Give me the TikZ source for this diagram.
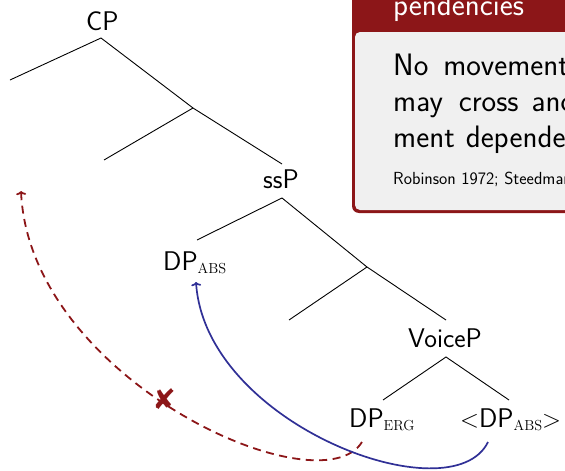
\documentclass[tikz,border=0pt]{standalone}
\usepackage{fontspec}
\usetikzlibrary{arrows.meta}
\newfontfamily\symfont{DejaVu Sans}
\definecolor{slidered}{RGB}{140,22,24}
\definecolor{blockgray}{RGB}{240,240,240}
\definecolor{moveblue}{RGB}{48,48,150}
% small roman subscript used for case labels
\newcommand\casesub[1]{\raisebox{-3pt}{\rmfamily\fontsize{14.5}{14.5}\selectfont #1}}

\begin{document}
\begin{tikzpicture}[x=1pt,y=-1pt,
  lbl/.style={anchor=base west, inner sep=0pt, font=\sffamily\fontsize{27}{31}\selectfont},
  blocktext/.style={anchor=base west, inner sep=0pt, font=\sffamily\fontsize{31}{36}\selectfont},
  branch/.style={line width=0.9pt, black},
  badmove/.style={line width=1.8pt, slidered, dash pattern=on 8pt off 5.5pt, -{To[length=4pt,width=10pt]}},
  goodmove/.style={line width=1.7pt, moveblue, -{To[length=4pt,width=10pt]}}]
\useasboundingbox (0,0) rectangle (565,471);

% block in the upper right corner
\begin{scope}
  \clip (0,0) rectangle (565,471);
  \fill[slidered, rounded corners=7pt] (352,-30) rectangle (620,213);
  \fill[blockgray] (355,32) -- (620,32) -- (620,210) [rounded corners=5pt] -- (355,210) -- cycle;
  \node[blocktext, text=white] (title) at (393,15) {pendencies};
  \node[blocktext] (line1) at (393,75) {No\hspace{15pt}movement};
  \node[blocktext] (line2) at (393,111) {may\hspace{16pt}cross\hspace{13pt}ano};
  \node[blocktext] (line3) at (393,147) {ment\hspace{11pt}dependen};
  \node[anchor=base west, inner sep=0pt, font=\sffamily\fontsize{17.5}{20}\selectfont] (cite) at (393,184) {Robinson 1972; Steedman};
\end{scope}

% tree labels
\node[lbl] (cp) at (86,30) {CP};
\node[lbl] (ssp) at (263,188) {ssP};
\node[lbl] (voicep) at (408,347) {VoiceP};
\node[lbl] (dpabs) at (163,270) {DP\casesub{ABS}};
\node[lbl] (dperg) at (349,427) {DP\casesub{ERG}};
\node[lbl] (dptrace) at (460,427) {$<$DP\casesub{ABS}$>$};

% branch points
\coordinate (cpfoot) at (101,38);
\coordinate (specleft) at (10,80);
\coordinate (cbar) at (193,108);
\coordinate (chead) at (104,160);
\coordinate (sshead) at (282,164);
\coordinate (ssfoot) at (282,198);
\coordinate (dpabshead) at (197,240);
\coordinate (ssbar) at (367,267);
\coordinate (sscomp) at (289,320);
\coordinate (voicehead) at (446,320);
\coordinate (voicefoot) at (446,357);
\coordinate (erghead) at (383,400);
\coordinate (tracehead) at (509,400);

\draw[branch] (specleft) -- (cpfoot) -- (cbar) -- (sshead);
\draw[branch] (chead) -- (cbar);
\draw[branch] (dpabshead) -- (ssfoot) -- (ssbar) -- (voicehead);
\draw[branch] (sscomp) -- (ssbar);
\draw[branch] (erghead) -- (voicefoot) -- (tracehead);

% movement arrows
\coordinate (ergfoot) at (362,442);
\coordinate (landing) at (21,191);
\coordinate (tracefoot) at (488,442);
\coordinate (dpabsfoot) at (196,282);

\draw[badmove] (ergfoot) .. controls (320,510) and (30,380) .. (landing);
\draw[goodmove] (tracefoot) .. controls (452,516) and (206,425) .. (dpabsfoot);
\node[text=slidered, inner sep=0pt, font=\symfont\fontsize{28}{28}\selectfont] (blocked) at (164,399) {✘};
\end{tikzpicture}
\end{document}
